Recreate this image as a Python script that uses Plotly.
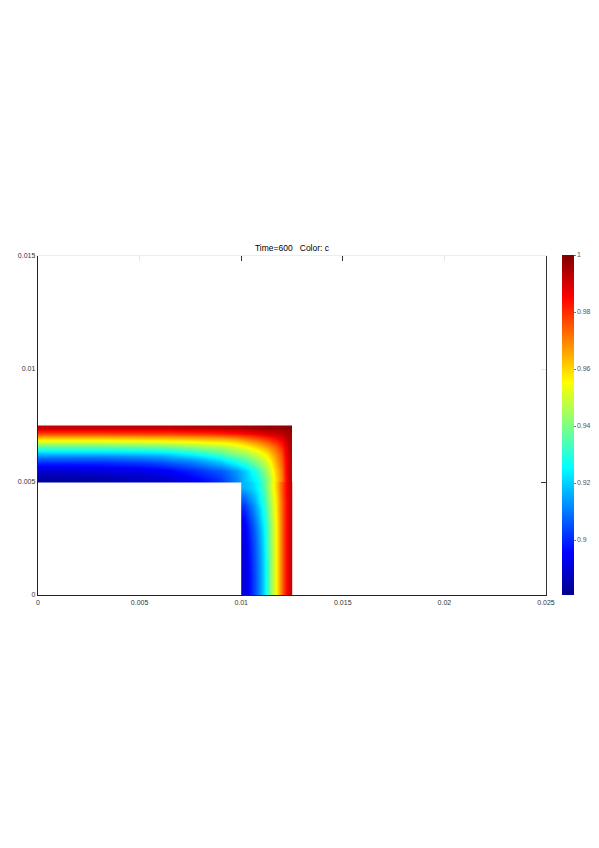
import plotly.graph_objects as go

title_text = "Time=600   Color: c"
x_ticks = [0, 0.005, 0.01, 0.015, 0.02, 0.025]
x_labels = ["0", "0.005", "0.01", "0.015", "0.02", "0.025"]
y_ticks = [0, 0.005, 0.01, 0.015]
y_labels = ["0", "0.005", "0.01", "0.015"]
cbar_ticks = [0.9, 0.92, 0.94, 0.96, 0.98, 1.0]
cbar_labels = ["0.9", "0.92", "0.94", "0.96", "0.98", "1"]
c_min = 0.8807
c_max = 1.0

# upper arm of the L: cell edges and estimated c values
top_x = [0, .002, .004, .006, .007, .008, .009, .0095, .01, .0105, .011, .0115, .012, .01225, .0125]
top_y = [.005, .0053, .0057, .0061, .0064, .0067, .007, .0073, .0075]
top_c = [
    [.883, .884, .887, .890, .894, .899, .905, .911, .919, .926, .941, .962, .980, .992],
    [.889, .890, .892, .895, .899, .904, .908, .913, .920, .930, .945, .963, .981, .992],
    [.901, .901, .903, .907, .910, .916, .922, .927, .933, .941, .951, .967, .982, .992],
    [.917, .917, .918, .921, .925, .931, .937, .941, .944, .950, .958, .970, .984, .993],
    [.935, .935, .936, .938, .941, .944, .947, .950, .954, .960, .966, .975, .986, .994],
    [.956, .956, .957, .958, .959, .961, .962, .964, .968, .972, .977, .983, .990, .995],
    [.977, .977, .978, .978, .979, .980, .982, .983, .985, .987, .990, .992, .994, .996],
    [.992, .992, .992, .992, .993, .993, .994, .994, .995, .996, .997, .997, .998, .999],
]

# right arm of the L: cell edges and estimated c values
right_x = [.01, .01025, .0105, .01075, .011, .01125, .0115, .01175, .012, .01225, .0125]
right_y = [0, .002, .003, .0035, .004, .0043, .0046, .005]
right_c = [
    [.890, .896, .903, .911, .921, .936, .951, .967, .981, .991],
    [.892, .898, .905, .913, .923, .937, .951, .967, .981, .991],
    [.895, .901, .908, .916, .926, .938, .952, .967, .981, .991],
    [.899, .905, .911, .919, .928, .940, .953, .968, .981, .991],
    [.905, .910, .915, .923, .931, .942, .954, .968, .981, .991],
    [.910, .914, .918, .924, .932, .943, .955, .969, .982, .991],
    [.917, .919, .922, .927, .935, .945, .957, .970, .982, .992],
]

jet = [
    [0, "rgb(0,0,143)"], [0.125, "rgb(0,0,255)"], [0.375, "rgb(0,255,255)"],
    [0.625, "rgb(255,255,0)"], [0.875, "rgb(255,0,0)"], [1, "rgb(128,0,0)"],
]

W, H = 599, 848
L, R, T, B = 38, 546, 256, 595
font = "Liberation Sans"
tick_font = dict(family=font, size=7, color="#333")

fig = go.Figure()
fig.add_trace(go.Heatmap(x=top_x, y=top_y, z=top_c, coloraxis="coloraxis", zsmooth="best"))
fig.add_trace(go.Heatmap(x=right_x, y=right_y, z=right_c, coloraxis="coloraxis", zsmooth="best",
                         xaxis="x2", yaxis="y2"))

fig.update_layout(
    width=W, height=H, autosize=False,
    margin=dict(l=0, r=0, t=0, b=0),
    paper_bgcolor="white", plot_bgcolor="white",
    title=dict(text=title_text, x=292 / W, xanchor="center", y=1 - 248 / H, yanchor="middle",
               font=dict(family=font, size=8.5, color="#000")),
    coloraxis=dict(
        cmin=c_min, cmax=c_max, colorscale=jet,
        colorbar=dict(
            thickness=12, thicknessmode="pixels",
            len=(595 - 255) / H, lenmode="fraction",
            x=562 / W, xanchor="left", xpad=0,
            y=1 - 595 / H, yanchor="bottom", ypad=0,
            outlinewidth=0, tickmode="array",
            tickvals=cbar_ticks, ticktext=cbar_labels,
            ticks="outside", ticklen=2, tickcolor="#777", tickwidth=1,
            tickfont=dict(family=font, size=7, color="#555"),
        ),
    ),
    xaxis=dict(
        automargin=False,
        domain=[L / W, R / W], range=[0, 0.025], anchor="y",
        tickmode="array", tickvals=x_ticks, ticktext=x_labels,
        showgrid=False, zeroline=False, showline=True, linecolor="#222", linewidth=1.4,
        ticks="", tickfont=tick_font,
    ),
    yaxis=dict(
        automargin=False,
        domain=[1 - B / H, 1 - T / H], range=[0, 0.015], anchor="x",
        tickmode="array", tickvals=y_ticks, ticktext=y_labels,
        showgrid=False, zeroline=False, showline=True, linecolor="#222", linewidth=1.4,
        ticks="", tickfont=tick_font,
    ),
    xaxis2=dict(
        automargin=False,
        domain=[L / W, R / W], range=[0, 0.025], overlaying="x", side="top", anchor="y2",
        tickmode="array", tickvals=[0.01, 0.015], ticks="inside", ticklen=5,
        tickcolor="#333", tickwidth=1, showticklabels=False,
        minor=dict(tickmode="array", tickvals=[0.005, 0.02], ticks="inside", ticklen=5,
                   tickcolor="#e8e8e8", tickwidth=1),
        showgrid=False, zeroline=False, showline=True, linecolor="#eeeeee", linewidth=1,
    ),
    yaxis2=dict(
        automargin=False,
        domain=[1 - B / H, 1 - T / H], range=[0, 0.015], overlaying="y", side="right", anchor="x2",
        tickmode="array", tickvals=[0.005], ticks="inside", ticklen=5,
        tickcolor="#333", tickwidth=1, showticklabels=False,
        minor=dict(tickmode="array", tickvals=[0.01], ticks="inside", ticklen=5,
                   tickcolor="#e8e8e8", tickwidth=1),
        showgrid=False, zeroline=False, showline=True, linecolor="#333", linewidth=1.4,
    ),
)

fig.write_html("out.html", config=dict(displayModeBar=False),
               post_script="document.body.style.margin='0';document.documentElement.style.overflow='hidden';")
